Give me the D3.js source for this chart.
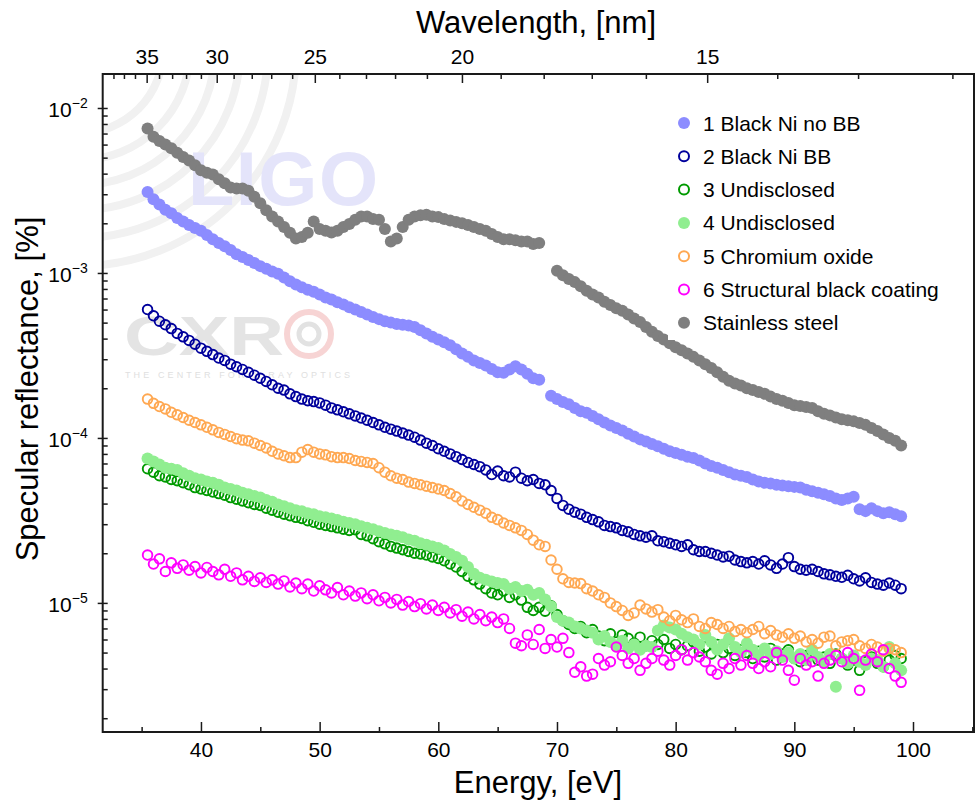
<!DOCTYPE html>
<html>
<head>
<meta charset="utf-8">
<script src="https://cdn.jsdelivr.net/npm/d3@7"></script>
<style>
  body { margin: 0; background: #fff; }
  svg { display: block; font-family: "Liberation Sans", Arial, sans-serif; }
</style>
</head>
<body>
<svg id="chart" width="979" height="808"></svg>
<script>
// photon energy of every sample, eV
const energy = [
  35.5,36,36.5,37,37.5,38,38.5,39,39.5,40,
  40.5,41,41.5,42,42.5,43,43.5,44,44.5,45,
  45.5,46,46.5,47,47.5,48,48.5,49,49.5,50,
  50.5,51,51.5,52,52.5,53,53.5,54,54.5,55,
  55.5,56,56.5,57,57.5,58,58.5,59,59.5,60,
  60.5,61,61.5,62,62.5,63,63.5,64,64.5,65,
  65.5,66,66.5,67,67.5,68,68.5,69,69.5,70,
  70.5,71,71.5,72,72.5,73,73.5,74,74.5,75,
  75.5,76,76.5,77,77.5,78,78.5,79,79.5,80,
  80.5,81,81.5,82,82.5,83,83.5,84,84.5,85,
  85.5,86,86.5,87,87.5,88,88.5,89,89.5,90,
  90.5,91,91.5,92,92.5,93,93.5,94,94.5,95,
  95.5,96,96.5,97,97.5,98,98.5,99
]

const blackNiNoBB = [
  3.1e-3,2.8e-3,2.6e-3,2.42e-3,2.3e-3,2.15e-3,2.05e-3,1.95e-3,1.87e-3,1.8e-3,
  1.7e-3,1.6e-3,1.52e-3,1.45e-3,1.38e-3,1.3e-3,1.25e-3,1.2e-3,1.15e-3,1.1e-3,
  1.06e-3,1.02e-3,9.9e-4,9.4e-4,8.9e-4,8.5e-4,8.2e-4,7.9e-4,7.7e-4,7.4e-4,
  7.1e-4,6.9e-4,6.65e-4,6.45e-4,6.2e-4,6.0e-4,5.8e-4,5.6e-4,5.4e-4,5.25e-4,
  5.1e-4,5.0e-4,4.9e-4,4.85e-4,4.8e-4,4.7e-4,4.5e-4,4.3e-4,4.1e-4,3.95e-4,
  3.8e-4,3.65e-4,3.45e-4,3.25e-4,3.1e-4,2.95e-4,2.85e-4,2.75e-4,2.62e-4,2.5e-4,
  2.48e-4,2.6e-4,2.72e-4,2.6e-4,2.45e-4,2.3e-4,2.25e-4,null,1.8e-4,1.72e-4,
  1.65e-4,1.6e-4,1.52e-4,1.45e-4,1.42e-4,1.36e-4,1.3e-4,1.24e-4,1.19e-4,1.15e-4,
  1.11e-4,1.06e-4,1.02e-4,9.8e-5,9.5e-5,9.2e-5,8.9e-5,8.6e-5,8.3e-5,8.1e-5,
  7.9e-5,7.7e-5,7.55e-5,7.3e-5,7.0e-5,6.75e-5,6.6e-5,6.4e-5,6.2e-5,6.0e-5,
  5.9e-5,5.8e-5,5.6e-5,5.45e-5,5.35e-5,5.3e-5,5.2e-5,5.15e-5,5.1e-5,5.05e-5,
  5.0e-5,4.85e-5,4.75e-5,4.65e-5,4.55e-5,4.45e-5,4.3e-5,4.2e-5,4.3e-5,4.4e-5,
  3.7e-5,3.6e-5,3.75e-5,3.6e-5,3.5e-5,3.55e-5,3.45e-5,3.35e-5
]

const blackNiBB = [
  6.0e-4,5.5e-4,5.1e-4,4.85e-4,4.6e-4,4.3e-4,4.1e-4,3.9e-4,3.7e-4,3.5e-4,
  3.35e-4,3.2e-4,3.05e-4,2.95e-4,2.8e-4,2.7e-4,2.6e-4,2.5e-4,2.4e-4,2.3e-4,
  2.2e-4,2.1e-4,2.0e-4,1.95e-4,1.85e-4,1.78e-4,1.72e-4,1.68e-4,1.66e-4,1.63e-4,
  1.58e-4,1.52e-4,1.48e-4,1.44e-4,1.4e-4,1.36e-4,1.32e-4,1.28e-4,1.24e-4,1.2e-4,
  1.16e-4,1.13e-4,1.1e-4,1.07e-4,1.04e-4,1.01e-4,9.7e-5,9.3e-5,9.0e-5,8.6e-5,
  8.3e-5,8.0e-5,7.7e-5,7.4e-5,7.1e-5,6.9e-5,6.7e-5,6.4e-5,6.0e-5,6.3e-5,
  5.9e-5,5.8e-5,6.2e-5,5.7e-5,5.5e-5,5.6e-5,5.3e-5,5.2e-5,4.8e-5,4.3e-5,
  3.9e-5,3.7e-5,3.55e-5,3.45e-5,3.3e-5,3.2e-5,3.1e-5,2.95e-5,2.9e-5,2.85e-5,
  2.75e-5,2.7e-5,2.6e-5,2.55e-5,2.5e-5,2.55e-5,2.38e-5,2.35e-5,2.3e-5,2.25e-5,
  2.2e-5,2.25e-5,2.1e-5,2.05e-5,2.05e-5,2.0e-5,1.95e-5,1.9e-5,1.92e-5,1.82e-5,
  1.78e-5,1.75e-5,1.78e-5,1.72e-5,1.8e-5,1.7e-5,1.62e-5,1.72e-5,1.88e-5,1.66e-5,
  1.6e-5,1.58e-5,1.6e-5,1.55e-5,1.5e-5,1.48e-5,1.45e-5,1.43e-5,1.47e-5,1.4e-5,
  1.36e-5,1.42e-5,1.33e-5,1.3e-5,1.28e-5,1.32e-5,1.28e-5,1.22e-5
]

const undisclosed3 = [
  6.5e-5,6.2e-5,5.9e-5,5.8e-5,5.6e-5,5.5e-5,5.35e-5,5.2e-5,5.0e-5,4.9e-5,
  4.8e-5,4.7e-5,4.6e-5,4.5e-5,4.35e-5,4.25e-5,4.15e-5,4.05e-5,3.95e-5,3.9e-5,
  3.75e-5,3.65e-5,3.55e-5,3.45e-5,3.38e-5,3.3e-5,3.25e-5,3.15e-5,3.08e-5,3.0e-5,
  2.95e-5,2.9e-5,2.85e-5,2.8e-5,2.75e-5,2.78e-5,2.6e-5,2.55e-5,2.45e-5,2.35e-5,
  2.28e-5,2.2e-5,2.15e-5,2.1e-5,2.05e-5,2.0e-5,1.98e-5,1.95e-5,1.9e-5,1.86e-5,
  1.8e-5,1.72e-5,1.65e-5,1.55e-5,1.45e-5,1.38e-5,1.3e-5,1.22e-5,1.15e-5,1.12e-5,
  1.18e-5,1.08e-5,1.12e-5,1.04e-5,9.4e-6,9.0e-6,9.4e-6,8.9e-6,9.6e-6,8.5e-6,
  7.8e-6,7.4e-6,7.0e-6,7.2e-6,6.6e-6,6.9e-6,6.3e-6,5.9e-6,6.5e-6,5.8e-6,
  6.4e-6,6.1e-6,5.7e-6,6.2e-6,5.5e-6,5.9e-6,5.6e-6,6.0e-6,5.3e-6,5.6e-6,
  5.2e-6,5.5e-6,5.8e-6,5.1e-6,5.4e-6,4.9e-6,5.6e-6,5.0e-6,5.3e-6,4.8e-6,
  5.2e-6,5.0e-6,4.6e-6,5.1e-6,4.7e-6,5.3e-6,4.5e-6,4.9e-6,5.2e-6,4.6e-6,
  4.4e-6,4.8e-6,5.0e-6,4.5e-6,4.7e-6,4.3e-6,4.9e-6,4.6e-6,4.2e-6,4.5e-6,
  3.9e-6,4.4e-6,4.7e-6,4.3e-6,4.1e-6,4.5e-6,4.8e-6,4.6e-6
]

const undisclosed4 = [
  7.5e-5,7.2e-5,6.9e-5,6.6e-5,6.5e-5,6.4e-5,6.1e-5,5.9e-5,5.7e-5,5.6e-5,
  5.45e-5,5.35e-5,5.2e-5,5.0e-5,4.9e-5,4.8e-5,4.65e-5,4.55e-5,4.45e-5,4.35e-5,
  4.2e-5,4.1e-5,3.95e-5,3.85e-5,3.75e-5,3.65e-5,3.6e-5,3.5e-5,3.45e-5,3.35e-5,
  3.3e-5,3.25e-5,3.18e-5,3.1e-5,3.05e-5,3.0e-5,2.92e-5,2.85e-5,2.8e-5,2.72e-5,
  2.65e-5,2.6e-5,2.55e-5,2.5e-5,2.42e-5,2.38e-5,2.3e-5,2.25e-5,2.2e-5,2.15e-5,
  2.08e-5,1.98e-5,1.9e-5,1.8e-5,1.65e-5,1.5e-5,1.42e-5,1.38e-5,1.35e-5,1.32e-5,
  1.3e-5,1.22e-5,1.25e-5,1.18e-5,1.2e-5,1.12e-5,1.15e-5,1.05e-5,9.5e-6,8.2e-6,
  7.8e-6,7.6e-6,7.2e-6,7.0e-6,6.8e-6,6.6e-6,6.0e-6,6.3e-6,5.8e-6,5.5e-6,
  5.9e-6,5.3e-6,5.6e-6,5.2e-6,5.5e-6,5.4e-6,6.8e-6,7.3e-6,7.1e-6,6.9e-6,
  6.5e-6,6.2e-6,6.0e-6,5.6e-6,6.4e-6,5.8e-6,5.2e-6,5.6e-6,6.1e-6,5.4e-6,
  5.0e-6,5.7e-6,5.2e-6,4.8e-6,5.3e-6,4.9e-6,5.1e-6,4.7e-6,5.0e-6,4.6e-6,
  4.9e-6,4.5e-6,5.2e-6,4.7e-6,4.4e-6,4.9e-6,3.1e-6,4.6e-6,4.3e-6,4.8e-6,
  4.4e-6,4.2e-6,4.6e-6,4.5e-6,4.1e-6,5.4e-6,4.3e-6,3.9e-6
]

const chromiumOxide = [
  1.72e-4,1.62e-4,1.55e-4,1.5e-4,1.43e-4,1.38e-4,1.33e-4,1.28e-4,1.24e-4,1.2e-4,
  1.16e-4,1.12e-4,1.08e-4,1.05e-4,1.02e-4,9.9e-5,9.7e-5,9.6e-5,9.3e-5,9.0e-5,
  8.7e-5,8.3e-5,8.0e-5,7.8e-5,7.6e-5,7.6e-5,8.2e-5,8.5e-5,8.2e-5,8.0e-5,
  7.9e-5,7.7e-5,7.6e-5,7.6e-5,7.5e-5,7.3e-5,7.2e-5,7.1e-5,7.0e-5,6.6e-5,
  6.2e-5,5.9e-5,5.7e-5,5.6e-5,5.4e-5,5.3e-5,5.2e-5,5.1e-5,5.0e-5,4.9e-5,
  4.8e-5,4.6e-5,4.4e-5,4.15e-5,3.95e-5,3.8e-5,3.65e-5,3.5e-5,3.3e-5,3.2e-5,
  3.05e-5,2.95e-5,2.85e-5,2.75e-5,2.6e-5,2.4e-5,2.25e-5,2.2e-5,1.82e-5,1.6e-5,
  1.4e-5,1.33e-5,1.32e-5,1.31e-5,1.22e-5,1.18e-5,1.12e-5,1.08e-5,1.0e-5,9.5e-6,
  9.0e-6,8.4e-6,8.7e-6,9.7e-6,9.2e-6,8.8e-6,9.1e-6,8.2e-6,7.8e-6,8.4e-6,
  7.9e-6,7.6e-6,8.0e-6,7.2e-6,7.0e-6,7.6e-6,7.4e-6,7.0e-6,7.2e-6,6.7e-6,
  6.9e-6,6.6e-6,6.9e-6,7.2e-6,6.5e-6,6.8e-6,6.4e-6,6.2e-6,6.5e-6,6.1e-6,
  6.3e-6,5.8e-6,6.0e-6,5.7e-6,6.2e-6,6.3e-6,5.5e-6,5.8e-6,5.9e-6,6.0e-6,
  5.5e-6,5.3e-6,5.6e-6,5.4e-6,5.1e-6,5.3e-6,5.2e-6,5.0e-6
]

const structuralBlack = [
  1.95e-5,1.72e-5,1.85e-5,1.55e-5,1.75e-5,1.62e-5,1.7e-5,1.58e-5,1.66e-5,1.52e-5,
  1.64e-5,1.55e-5,1.48e-5,1.6e-5,1.45e-5,1.52e-5,1.38e-5,1.45e-5,1.35e-5,1.42e-5,
  1.33e-5,1.38e-5,1.3e-5,1.36e-5,1.25e-5,1.32e-5,1.22e-5,1.3e-5,1.18e-5,1.27e-5,
  1.2e-5,1.15e-5,1.24e-5,1.12e-5,1.18e-5,1.1e-5,1.15e-5,1.06e-5,1.12e-5,1.03e-5,
  1.08e-5,1.0e-5,1.05e-5,9.7e-6,1.02e-5,9.5e-6,9.9e-6,9.2e-6,9.7e-6,9.0e-6,
  9.4e-6,8.7e-6,9.1e-6,8.3e-6,8.8e-6,8.0e-6,8.5e-6,7.8e-6,8.2e-6,7.6e-6,
  8.0e-6,7.0e-6,5.7e-6,5.5e-6,6.4e-6,5.6e-6,6.9e-6,5.3e-6,6.0e-6,5.4e-6,
  6.1e-6,5.0e-6,3.8e-6,4.1e-6,3.6e-6,3.7e-6,4.6e-6,4.2e-6,4.4e-6,5.4e-6,
  4.8e-6,4.3e-6,4.6e-6,3.9e-6,4.3e-6,4.6e-6,5.1e-6,4.5e-6,4.2e-6,4.8e-6,
  5.2e-6,4.5e-6,5.0e-6,4.7e-6,4.4e-6,3.9e-6,3.7e-6,4.3e-6,4.0e-6,4.6e-6,
  4.2e-6,4.8e-6,4.3e-6,4.0e-6,4.4e-6,4.1e-6,5.0e-6,4.5e-6,3.9e-6,3.4e-6,
  4.6e-6,4.2e-6,4.4e-6,3.6e-6,4.3e-6,4.5e-6,4.8e-6,4.4e-6,5.0e-6,4.6e-6,
  2.95e-6,4.5e-6,4.9e-6,4.4e-6,5.2e-6,4.0e-6,3.6e-6,3.3e-6
]

const stainlessSteel = [
  7.5e-3,6.7e-3,6.3e-3,6.0e-3,5.7e-3,5.35e-3,5.05e-3,4.8e-3,4.5e-3,4.2e-3,
  4.05e-3,3.95e-3,3.7e-3,3.5e-3,3.3e-3,3.25e-3,3.25e-3,3.15e-3,2.9e-3,2.65e-3,
  2.4e-3,2.2e-3,2.05e-3,1.9e-3,1.75e-3,1.62e-3,1.65e-3,1.75e-3,2.05e-3,1.85e-3,
  1.8e-3,1.76e-3,1.8e-3,1.9e-3,1.98e-3,2.1e-3,2.2e-3,2.2e-3,2.12e-3,2.1e-3,
  1.85e-3,1.55e-3,1.62e-3,1.9e-3,2.1e-3,2.2e-3,2.24e-3,2.25e-3,2.2e-3,2.18e-3,
  2.12e-3,2.08e-3,2.04e-3,2.0e-3,1.95e-3,1.9e-3,1.85e-3,1.8e-3,1.72e-3,1.65e-3,
  1.6e-3,1.6e-3,1.58e-3,1.55e-3,1.55e-3,1.5e-3,1.52e-3,null,null,1.03e-3,
  9.7e-4,9.2e-4,8.8e-4,8.3e-4,7.8e-4,7.4e-4,7.1e-4,6.7e-4,6.4e-4,6.1e-4,
  5.9e-4,5.6e-4,5.3e-4,5.05e-4,4.7e-4,4.4e-4,4.15e-4,3.95e-4,3.75e-4,3.55e-4,
  3.4e-4,3.25e-4,3.1e-4,2.95e-4,2.8e-4,2.65e-4,2.5e-4,2.35e-4,2.22e-4,2.14e-4,
  2.08e-4,2.0e-4,1.95e-4,1.9e-4,1.85e-4,1.78e-4,1.72e-4,1.68e-4,1.63e-4,1.58e-4,
  1.56e-4,1.54e-4,1.52e-4,1.45e-4,1.4e-4,1.37e-4,1.33e-4,1.3e-4,1.28e-4,1.26e-4,
  1.23e-4,1.2e-4,1.15e-4,1.1e-4,1.05e-4,1.0e-4,9.6e-5,9.0e-5
]

const seriesNames = ['1 Black Ni no BB', '2 Black Ni BB', '3 Undisclosed', '4 Undisclosed',
  '5 Chromium oxide', '6 Structural black coating', 'Stainless steel']
const seriesValues = [blackNiNoBB, blackNiBB, undisclosed3, undisclosed4,
  chromiumOxide, structuralBlack, stainlessSteel]
const seriesColors = ['#8c8cff', '#00009c', '#009a00', '#90ee90', '#ffa852', '#ff00ff', '#7f7f7f']
const seriesFilled = [true, false, false, true, false, false, true]

const energyTicks = [40, 50, 60, 70, 80, 90, 100]
const energyMinor = [35, 45, 55, 65, 75, 85, 95, 105]
const wavelengthTicks = [35, 30, 25, 20, 15]
const wavelengthMinor = [39, 38, 37, 36, 34, 33, 32, 31, 29, 28, 27, 26, 24, 23, 22, 21, 19, 18, 17, 16, 14, 13, 12]
const decadeTicks = [1e-2, 1e-3, 1e-4, 1e-5]

const hc = 1239.84 // eV*nm

const svg = d3.select('#chart')
const pLeft = 102.7, pRight = 974, pTop = 74, pBottom = 732

const x = d3.scaleLinear().domain([31.72, 105.14]).range([pLeft, pRight])
const y = d3.scaleLog().domain([1.65e-6, 1.607e-2]).range([pBottom, pTop])

svg.append('rect').attr('width', 979).attr('height', 808).attr('fill', '#fff')

svg.append('clipPath').attr('id', 'plotclip')
	.append('rect').attr('x', pLeft).attr('y', pTop).attr('width', pRight - pLeft).attr('height', pBottom - pTop)

// background watermarks (LIGO waves + logo, CXRO logo)
const wm = svg.append('g').attr('clip-path', 'url(#plotclip)')
const arcs = [83, 110, 135, 160, 188, 216]
wm.selectAll('circle.wave').data(arcs).join('circle')
	.attr('cx', 80).attr('cy', 50).attr('r', d => d)
	.attr('fill', 'none').attr('stroke', '#f1f1f1').attr('stroke-width', 8)
wm.append('text').attr('x', 188).attr('y', 205)
	.attr('font-size', 76).attr('font-weight', 'bold').attr('fill', '#e4e4fa')
	.attr('textLength', 190).text('LIGO')
wm.append('text').attr('x', 124).attr('y', 355)
	.attr('font-size', 56).attr('font-weight', 'bold').attr('fill', '#e4e4e4')
	.attr('textLength', 160).attr('lengthAdjust', 'spacingAndGlyphs').text('CXR')
wm.append('circle').attr('cx', 309).attr('cy', 334).attr('r', 22)
	.attr('fill', 'none').attr('stroke', '#f7d4d4').attr('stroke-width', 6)
wm.append('circle').attr('cx', 309).attr('cy', 334).attr('r', 10)
	.attr('fill', 'none').attr('stroke', '#e2e2e2').attr('stroke-width', 5)
wm.append('text').attr('x', 125).attr('y', 378)
	.attr('font-size', 9).attr('fill', '#e0e0e0').attr('textLength', 225).text('THE CENTER FOR X-RAY OPTICS')

// data points
const plot = svg.append('g').attr('clip-path', 'url(#plotclip)')
seriesValues.forEach((vals, s) => {
	const pts = energy.map((e, i) => [e, vals[i]]).filter(d => d[1] != null)
	plot.append('g').selectAll('circle').data(pts).join('circle')
		.attr('cx', d => x(d[0]))
		.attr('cy', d => y(d[1]))
		.attr('r', seriesFilled[s] ? 6 : 4.8)
		.attr('fill', seriesFilled[s] ? seriesColors[s] : 'none')
		.attr('stroke', seriesFilled[s] ? 'none' : seriesColors[s])
		.attr('stroke-width', 1.9)
})

// axes
const axisColor = '#1a1a1a'
const styleAxis = g => {
	g.select('.domain').remove()
	g.selectAll('line').attr('stroke', axisColor).attr('stroke-width', 1.5)
	g.selectAll('text').attr('fill', '#000').attr('font-family', '"Liberation Sans", Arial, sans-serif')
}

svg.append('g').attr('transform', `translate(0,${pBottom})`)
	.call(d3.axisBottom(x).tickValues(energyTicks).tickSize(-10).tickPadding(10).tickFormat(d3.format('d')))
	.call(styleAxis)
	.selectAll('text').attr('font-size', 21)
svg.append('g').attr('transform', `translate(0,${pBottom})`)
	.call(d3.axisBottom(x).tickValues(energyMinor).tickSize(-5).tickFormat(''))
	.call(styleAxis)

// top wavelength axis, placed on the energy scale
svg.append('g').attr('transform', `translate(0,${pTop})`)
	.call(d3.axisTop(x).tickValues(wavelengthTicks.map(w => hc / w)).tickSize(-9).tickPadding(10)
		.tickFormat((d, i) => wavelengthTicks[i]))
	.call(styleAxis)
	.selectAll('text').attr('font-size', 21)
svg.append('g').attr('transform', `translate(0,${pTop})`)
	.call(d3.axisTop(x).tickValues(wavelengthMinor.map(w => hc / w).filter(e => e > 31.8 && e < 105)).tickSize(-5).tickFormat(''))
	.call(styleAxis)

// left log axis
const minorY = []
decadeTicks.concat([1e-6]).forEach(dec => {
	for (let k = 2; k <= 9; k++) {
		const v = dec * k
		if (v > 1.65e-6 && v < 1.6e-2) minorY.push(v)
	}
})
const yAx = svg.append('g').attr('transform', `translate(${pLeft},0)`)
	.call(d3.axisLeft(y).tickValues(decadeTicks).tickSize(5).tickPadding(10).tickFormat(''))
	.call(styleAxis)
yAx.selectAll('line').attr('x1', 5)
yAx.selectAll('.tick text')
	.attr('font-size', 21).attr('dy', '0.42em')
	.each(function (d) {
		const t = d3.select(this)
		t.text('10')
		t.append('tspan').attr('dy', -9).attr('font-size', 14).text('\u2212' + Math.round(-Math.log10(d)))
	})
svg.append('g').attr('transform', `translate(${pLeft},0)`)
	.call(d3.axisLeft(y).tickValues(minorY).tickSize(-5).tickFormat(''))
	.call(styleAxis)

// frame
svg.append('rect').attr('x', pLeft).attr('y', pTop).attr('width', pRight - pLeft).attr('height', pBottom - pTop)
	.attr('fill', 'none').attr('stroke', axisColor).attr('stroke-width', 2)

// titles
svg.append('text').attr('x', 538).attr('y', 793).attr('text-anchor', 'middle')
	.attr('font-size', 31).text('Energy, [eV]')
svg.append('text').attr('x', 536).attr('y', 33).attr('text-anchor', 'middle')
	.attr('font-size', 31).text('Wavelength, [nm]')
svg.append('text').attr('transform', 'translate(38,389) rotate(-90)').attr('text-anchor', 'middle')
	.attr('font-size', 31).text('Specular reflectance, [%]')

// legend
const legend = svg.append('g')
legend.append('rect').attr('x', 668).attr('y', 106).attr('width', 302).attr('height', 234).attr('fill', '#fff')
seriesNames.forEach((name, s) => {
	const ly = 123 + s * 33.3
	legend.append('circle').attr('cx', 684).attr('cy', ly).attr('r', seriesFilled[s] ? 6 : 5)
		.attr('fill', seriesFilled[s] ? seriesColors[s] : 'none')
		.attr('stroke', seriesFilled[s] ? 'none' : seriesColors[s]).attr('stroke-width', 2)
	legend.append('text').attr('x', 703).attr('y', ly + 7.5).attr('font-size', 21).text(name)
})
</script>
</body>
</html>
